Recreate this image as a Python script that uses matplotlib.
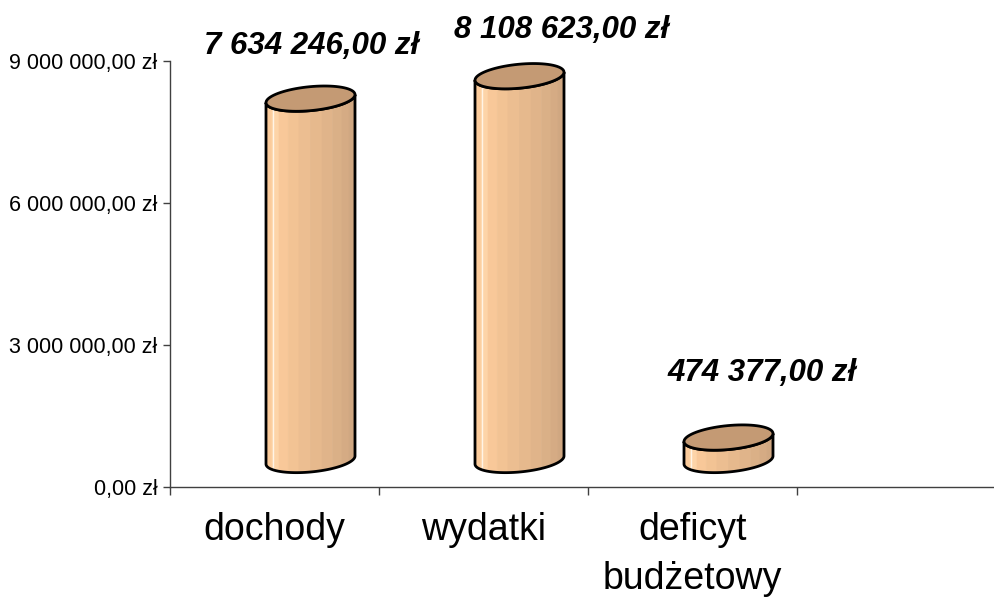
"""
Budzet: dochody, wydatki, deficyt - wykres walcowy w stylu Excela.
"""

import matplotlib
matplotlib.use('Agg')
import matplotlib.pyplot as plt
from matplotlib.patches import Polygon
import numpy as np

# data
categories = ['dochody', 'wydatki', 'deficyt\nbudżetowy']
values = [7634246.00, 8108623.00, 474377.00]
yticks = [0, 3000000, 6000000, 9000000]

# label offsets in pixels (manual Excel placement)
lab_off = [(37, 80), (78, 73), (70, 92)]


def zl(v):
    s = '{:,.2f}'.format(v).replace(',', ' ').replace('.', ',')
    return s + ' zł'


W, H, dpi = 995, 597, 100
fig = plt.figure(figsize=(W/dpi, H/dpi), dpi=dpi)
ax = fig.add_axes([170/W, (H-487)/H, (1006-170)/W, (487-61)/H])

ax.set_xlim(-0.5, 3.5)
ax.set_ylim(0, 9000000)

# px -> data scale
sx = 4.0/(1006-170)
sy = 9000000/(487-61)

# cylinder geometry in pixels
dx_px, dy_px = 36, 27      # depth shift
a_px, b_px, k_px = 44.5, 12, 4   # half width, ellipse half height, tilt

side_cols = ['#f4c18e', '#fbcb9b', '#fdd4a8', '#f8c899', '#f2c394', '#ecbe91',
             '#e6b98d', '#e0b48a', '#dab087', '#d5ab84', '#d0a781', '#caa27d']
top_col = '#c49a74'


def ell(cx, cy, t):
    x = cx + a_px*sx*np.cos(t)
    y = cy + (b_px*np.sin(t) + k_px*np.cos(t))*sy
    return x, y


for i, v in enumerate(values):
    cx = i + dx_px*sx
    y0 = dy_px*sy
    y1 = v + dy_px*sy
    # side strips
    n = len(side_cols)
    edges = np.linspace(np.pi, 2*np.pi, n+1)
    for j in range(n):
        t = np.linspace(edges[j], edges[j+1], 6)
        xb, yb = ell(cx, y0, t)
        xt, yt = ell(cx, y1, t)
        pts = np.column_stack([np.r_[xb, xt[::-1]], np.r_[yb, yt[::-1]]])
        ax.add_patch(Polygon(pts, closed=True, facecolor=side_cols[j],
                             edgecolor=side_cols[j], lw=0.5, zorder=3))
    # highlight line
    th = np.pi + 0.18*np.pi
    hx, hy0 = ell(cx, y0, th)
    hx, hy1 = ell(cx, y1, th)
    ax.plot([hx, hx], [hy0, hy1], color='#fff4e6', lw=1, zorder=4)
    # side outline
    t = np.linspace(np.pi, 2*np.pi, 60)
    xb, yb = ell(cx, y0, t)
    xt, yt = ell(cx, y1, t)
    pts = np.column_stack([np.r_[xb, xt[::-1]], np.r_[yb, yt[::-1]]])
    ax.add_patch(Polygon(pts, closed=True, facecolor='none',
                         edgecolor='black', lw=2, zorder=5))
    # top
    t = np.linspace(0, 2*np.pi, 80)
    xt, yt = ell(cx, y1, t)
    ax.add_patch(Polygon(np.column_stack([xt, yt]), closed=True,
                         facecolor=top_col, edgecolor='black', lw=2, zorder=6))
    # value label
    ax.annotate(zl(v), xy=(i, v), xytext=lab_off[i], textcoords='offset pixels',
                ha='center', va='center', fontsize=22.5, fontweight='bold',
                fontstyle='italic', family='Liberation Sans', zorder=7)

# axes
for s in ['top', 'right']:
    ax.spines[s].set_visible(False)
for s in ['left', 'bottom']:
    ax.spines[s].set_color('#404040')
    ax.spines[s].set_linewidth(1.0)

ax.set_yticks(yticks)
ax.set_yticklabels([zl(v) for v in yticks], family='Liberation Sans', fontsize=15.5)
ax.tick_params(axis='y', length=5, width=1, color='#404040', pad=4)

ax.set_xticks([-0.5, 0.5, 1.5, 2.5, 3.5])
ax.set_xticklabels([])
ax.tick_params(axis='x', length=6, width=1, color='#404040')
ax.set_xticks(range(len(categories)), minor=True)
ax.set_xticklabels(categories, minor=True, fontsize=27,
                   family='Liberation Sans', linespacing=1.45)
ax.tick_params(axis='x', which='minor', length=0, pad=18)
for lab in ax.get_xticklabels(minor=True):
    lab.set_verticalalignment('top')

plt.savefig('out.png', dpi=dpi)
